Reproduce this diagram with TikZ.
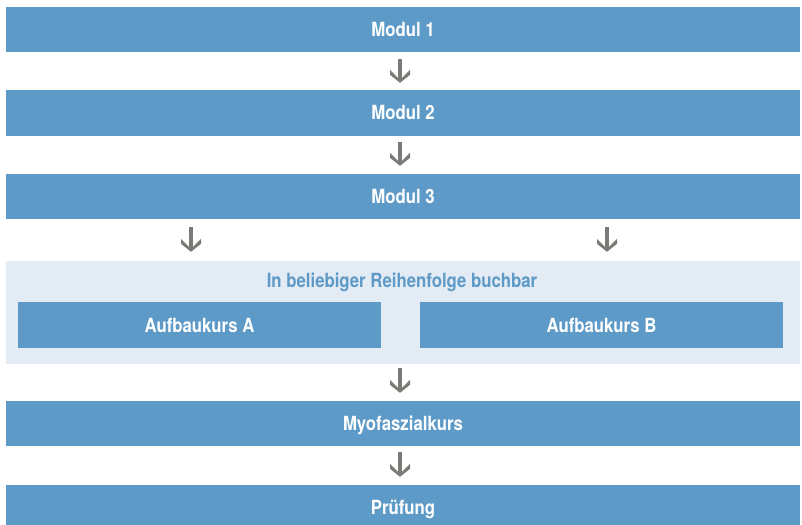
\documentclass[tikz,border=0pt]{standalone}
\usepackage{fontspec}
\setmainfont{TeX Gyre Heros}[FakeStretch=0.86]
\definecolor{barblue}{HTML}{5D9AC7}
\definecolor{lightbg}{HTML}{E3EBF4}
\definecolor{arrowgray}{HTML}{7A7A76}
\pgfdeclarearrow{
  name = Chev,
  setup code = {
    \pgfarrowssettipend{0pt}
    \pgfarrowssetlineend{-4pt}
    \pgfarrowssetbackend{-13pt}
    \pgfarrowssetvisualbackend{-13pt}
    \pgfarrowshullpoint{0pt}{0pt}
    \pgfarrowsupperhullpoint{-13pt}{10pt}
  },
  drawing code = {
    \pgfpathmoveto{\pgfqpoint{0pt}{0pt}}
    \pgfpathlineto{\pgfqpoint{-8pt}{10pt}}
    \pgfpathlineto{\pgfqpoint{-13pt}{10pt}}
    \pgfpathlineto{\pgfqpoint{-5pt}{2pt}}
    \pgfpathlineto{\pgfqpoint{-5pt}{-2pt}}
    \pgfpathlineto{\pgfqpoint{-13pt}{-10pt}}
    \pgfpathlineto{\pgfqpoint{-8pt}{-10pt}}
    \pgfpathclose
    \pgfusepathqfill
  }
}
\begin{document}
\begin{tikzpicture}[x=1pt,y=-1pt,
  bar/.style={fill=barblue, draw=none, inner sep=0pt, minimum width=794pt, minimum height=45pt,
    text=white, font=\bfseries\fontsize{19.5}{19.5}\selectfont, text height=14pt, text depth=0pt},
  subbar/.style={bar, minimum width=363pt, minimum height=46pt},
  grouptitle/.style={inner sep=0pt, text=barblue, font=\bfseries\fontsize{19.5}{19.5}\selectfont,
    text height=14pt, text depth=0pt},
  groupbox/.style={fill=lightbg, draw=none, inner sep=0pt, minimum width=794pt, minimum height=103pt},
  flow/.style={draw=arrowgray, line width=4pt, -Chev, shorten <=6pt, shorten >=7.5pt},
  flowm/.style={flow, shorten <=8.5pt, shorten >=9pt}
]
\useasboundingbox (0,0) rectangle (802,524);
\clip (0,0) rectangle (802,524);
\node[bar] (m1) at (403,30) {Modul 1};
\node[bar] (m2) at (403,113) {Modul 2};
\node[bar] (m3) at (403,196) {Modul 3};
\node[groupbox] (grp) at (403,312.5) {};
\node[grouptitle] (gt) at (402,280.5) {In beliebiger Reihenfolge buchbar};
\node[subbar] (a) at (199.5,325) {Aufbaukurs A};
\node[subbar] (b) at (601.5,325) {Aufbaukurs B};
\node[bar] (myo) at (403,423) {Myofaszialkurs};
\node[bar] (pr) at (403,507) {Prüfung};
\coordinate (xm) at (400,0);
\coordinate (xl) at (191,0);
\coordinate (xr) at (607,0);
\draw[flow] (m1.south -| xm) -- (m2.north -| xm);
\draw[flow] (m2.south -| xm) -- (m3.north -| xm);
\draw[flowm] (m3.south -| xl) -- (grp.north -| xl);
\draw[flowm] (m3.south -| xr) -- (grp.north -| xr);
\draw[flow, shorten <=4pt] (grp.south -| xm) -- (myo.north -| xm);
\draw[flow] (myo.south -| xm) -- (pr.north -| xm);
\end{tikzpicture}
\end{document}
